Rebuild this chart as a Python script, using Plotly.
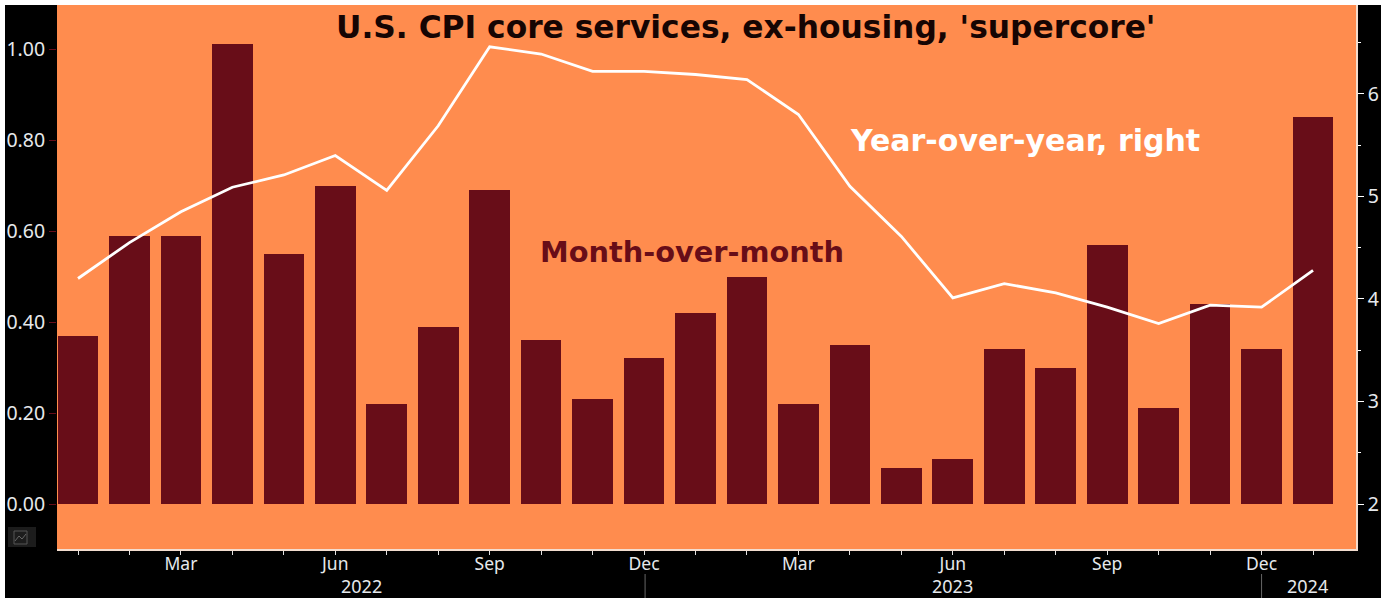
import plotly.graph_objects as go

months = ["Jan","Feb","Mar","Apr","May","Jun","Jul","Aug","Sep","Oct","Nov","Dec",
          "Jan","Feb","Mar","Apr","May","Jun","Jul","Aug","Sep","Oct","Nov","Dec","Jan"]
mom = [0.37,0.59,0.59,1.01,0.55,0.70,0.22,0.39,0.69,0.36,0.23,0.32,0.42,0.50,0.22,
       0.35,0.08,0.10,0.34,0.30,0.57,0.21,0.44,0.34,0.85]
yoy = [4.20,4.55,4.85,5.09,5.21,5.40,5.06,5.69,6.46,6.39,6.22,6.22,6.19,6.14,5.80,
       5.10,4.61,4.01,4.15,4.06,3.92,3.76,3.94,3.92,4.28]
x = list(range(len(months)))
tick_idx = [i for i, m in enumerate(months) if m in ("Mar", "Jun", "Sep", "Dec")]
tick_labels = [months[i] for i in tick_idx]
years = [("2022", 5.5), ("2023", 17), ("2024", 23.9)]
year_seps = [11.02, 23]

ORANGE = "#FF8C4E"
MAROON = "#680D18"
TXT = "#E6E9EC"
FAM = "Noto Sans, Open Sans, sans-serif"
TICKF = dict(family=FAM, size=19.5, color=TXT)
XTICKF = dict(family=FAM, size=17.5, color=TXT)

fig = go.Figure()
fig.add_bar(x=x, y=mom, marker=dict(color=MAROON, line_width=0), width=0.79, yaxis="y", showlegend=False)
fig.add_scatter(x=x, y=yoy, mode="lines", line=dict(color="white", width=2.8), yaxis="y2", showlegend=False)

W, H = 1390, 598
L, R, T, B = 57, 1356, 5, 549
def px(v): return (v - L) / (R - L)
def py(v): return (B - v) / (B - T)

shapes = [
    dict(type="rect", xref="paper", yref="paper", x0=px(5), x1=px(1381), y0=py(598), y1=py(5),
         fillcolor="black", line_width=0, layer="below"),
    dict(type="rect", xref="paper", yref="paper", x0=0, x1=1, y0=0, y1=1,
         fillcolor=ORANGE, line_width=0, layer="below"),
    dict(type="rect", xref="paper", yref="paper", x0=px(8), x1=px(36), y0=py(547), y1=py(527),
         fillcolor="#1c1c1c", line_width=0, layer="below"),
    dict(type="rect", xref="paper", yref="paper", x0=px(14), x1=px(27), y0=py(544), y1=py(531),
         fillcolor="rgba(0,0,0,0)", line=dict(color="#555555", width=1), layer="below"),
    dict(type="path", xref="paper", yref="paper",
         path=f"M {px(15)} {py(541)} L {px(19)} {py(536)} L {px(22)} {py(539)} L {px(26)} {py(534)}",
         line=dict(color="#666666", width=1), layer="below"),
]
for s in year_seps:
    shapes.append(dict(type="line", xref="x", yref="paper", x0=s, x1=s, y0=py(598), y1=py(574),
                       line=dict(color="#666666", width=1)))

anns = [
    dict(text="U.S. CPI core services, ex-housing, 'supercore'", x=px(745), y=py(27), xref="paper", yref="paper",
         showarrow=False, xanchor="center", yanchor="middle",
         font=dict(family="DejaVu Sans", size=31.3, color="#160503", weight="bold")),
    dict(text="Year-over-year, right", x=px(1025), y=py(140), xref="paper", yref="paper",
         showarrow=False, xanchor="center", yanchor="middle",
         font=dict(family="DejaVu Sans", size=30, color="white", weight="bold")),
    dict(text="Month-over-month", x=px(692), y=py(252), xref="paper", yref="paper",
         showarrow=False, xanchor="center", yanchor="middle",
         font=dict(family="DejaVu Sans", size=28.8, color=MAROON, weight="bold")),
]
for label, pos in years:
    anns.append(dict(text=label, x=pos, y=py(585.7), xref="x", yref="paper", showarrow=False, borderpad=0,
                     xanchor="center", yanchor="middle", font=dict(family=FAM, size=18, color=TXT)))

fig.update_layout(
    width=W, height=H, autosize=False,
    margin=dict(l=L, r=W - R, t=T, b=H - B, pad=0),
    paper_bgcolor="white", plot_bgcolor="rgba(0,0,0,0)",
    shapes=shapes, annotations=anns, bargap=0,
    xaxis=dict(range=[-0.408, 24.835], tickmode="array", tickvals=tick_idx, ticktext=tick_labels,
               showgrid=False, zeroline=False, showline=True, linecolor="#F3DDCF", linewidth=1.5,
               ticks="outside", ticklen=4, tickcolor="#E0E0E0", tickfont=XTICKF, ticklabelstandoff=-6,
               minor=dict(tickmode="array", tickvals=x, ticks="outside", ticklen=4, tickcolor="#E0E0E0", showgrid=False)),
    yaxis=dict(range=[-0.0989, 1.0967], tickmode="array", tickvals=[0, .2, .4, .6, .8, 1.0],
               ticktext=["0.00", "0.20", "0.40", "0.60", "0.80", "1.00"],
               showgrid=False, zeroline=False, showline=False,
               ticks="outside", ticklen=7, tickcolor=MAROON, tickfont=TICKF),
    yaxis2=dict(range=[1.561, 6.868], overlaying="y", side="right", tickmode="array", tickvals=[2, 3, 4, 5, 6],
                showgrid=False, zeroline=False, showline=True, linecolor="#F3DDCF", linewidth=1.5,
                ticks="outside", ticklen=6, tickcolor="white", tickfont=TICKF,
                minor=dict(tickmode="array", tickvals=[2.5, 3.5, 4.5, 5.5, 6.5], ticks="outside", ticklen=3,
                           tickcolor="white", showgrid=False)),
)
fig.write_html("out.html", config=dict(displayModeBar=False, responsive=False),
               post_script="document.body.style.margin='0';")
